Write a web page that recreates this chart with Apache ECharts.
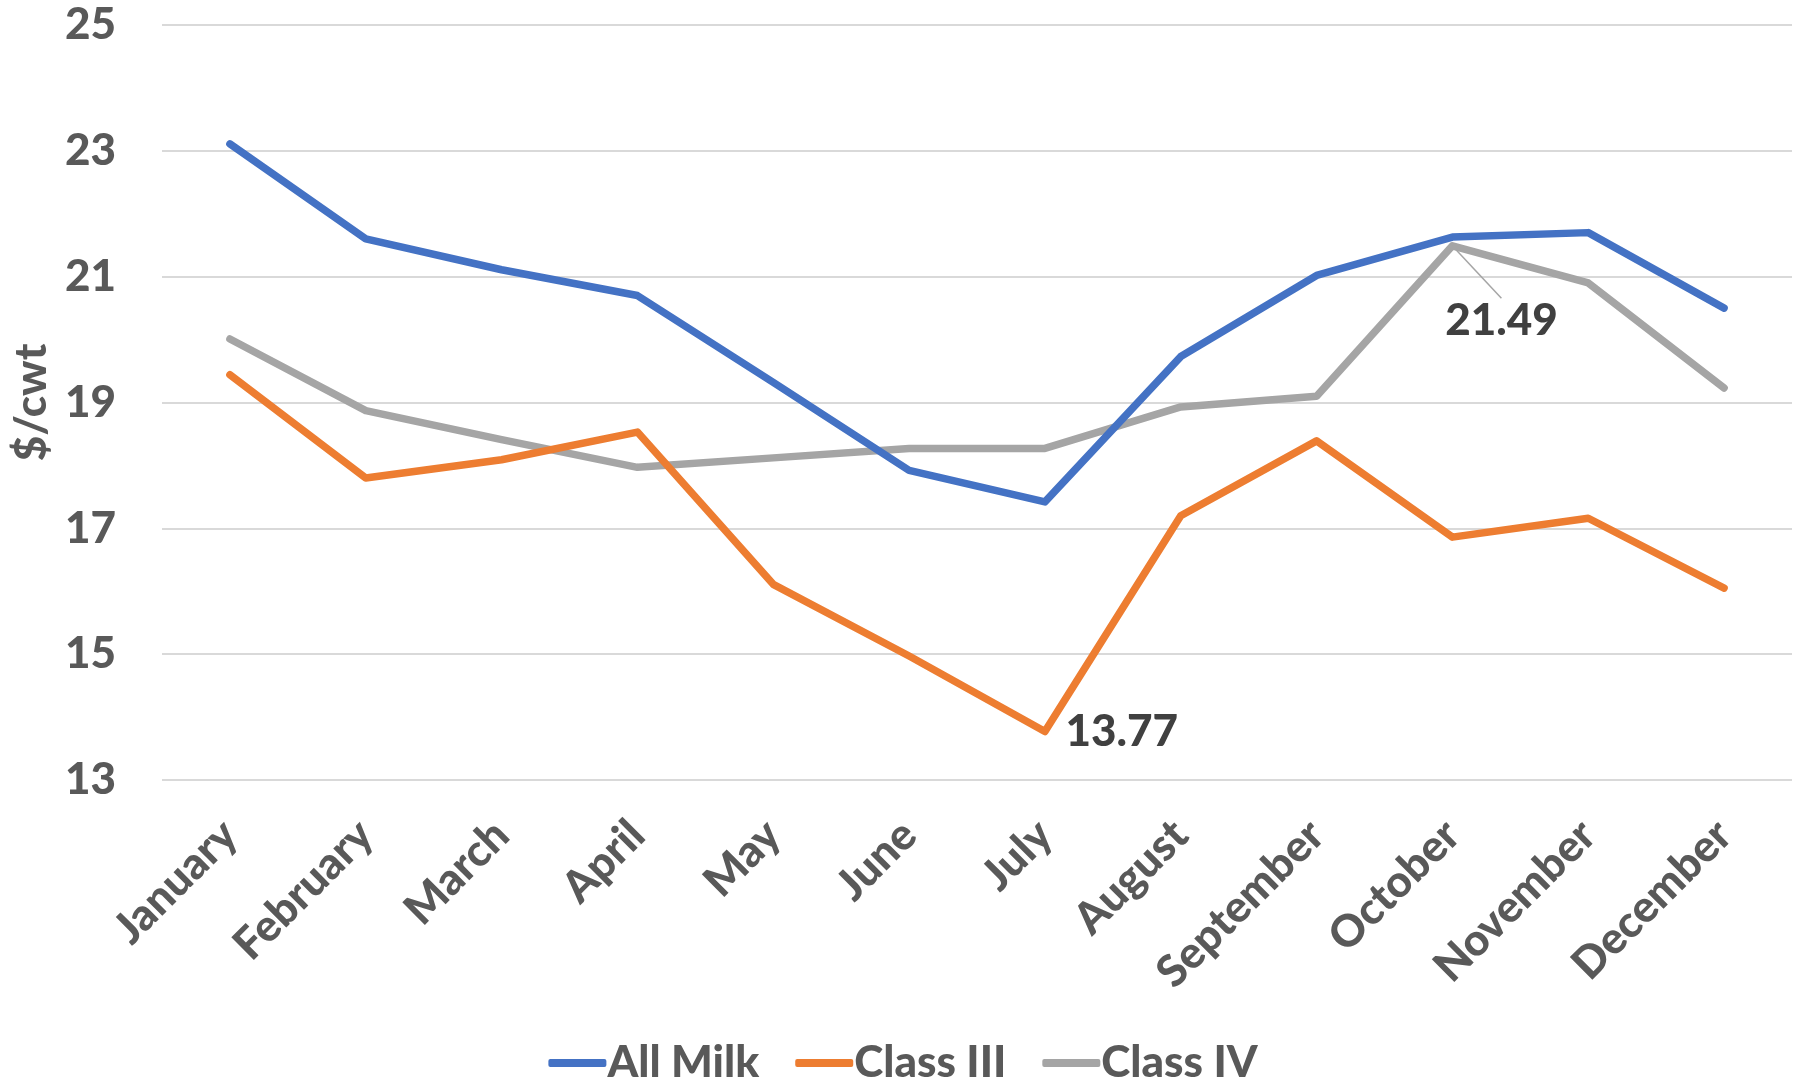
<!DOCTYPE html>
<html>
<head>
<meta charset="utf-8">
<style>
  html, body { margin: 0; padding: 0; background: #ffffff; }
  #chart { width: 1806px; height: 1088px; }
</style>
<script src="https://cdn.jsdelivr.net/npm/echarts@6/dist/echarts.min.js"></script>
</head>
<body>
<div id="chart"></div>
<script>
const months = ['January', 'February', 'March', 'April', 'May', 'June', 'July', 'August', 'September', 'October', 'November', 'December'];
const allMilk = [23.11, 21.60, 21.11, 20.70, 19.32, 17.92, 17.42, 19.73, 21.02, 21.63, 21.70, 20.50];
const classIII = [19.44, 17.80, 18.09, 18.53, 16.11, 14.97, 13.77, 17.20, 18.39, 16.86, 17.16, 16.05];
const classIV = [20.01, 18.87, 18.41, 17.97, 18.12, 18.27, 18.27, 18.93, 19.10, 21.49, 20.90, 19.23];
const yTicks = [13, 15, 17, 19, 21, 23, 25];
const seriesNames = ['All Milk', 'Class III', 'Class IV'];
const labelledIII = 6;   // July
const labelledIV = 9;    // October

const FONT = 'Lato, "Liberation Sans", sans-serif';
const WEIGHT = 900;
const chart = echarts.init(document.getElementById('chart'), null, { renderer: 'canvas' });

function lineSeries(name, values, color, labelIdx, labelCfg) {
  return {
    name: name,
    type: 'line',
    data: values.map((v, i) => (i === labelIdx ? { value: v, label: labelCfg } : v)),
    showSymbol: true,
    symbol: 'circle',
    symbolSize: 1,
    itemStyle: { color: color },
    lineStyle: { color: color, width: 7.5, cap: 'round', join: 'round' },
    label: { show: false },
    emphasis: { disabled: true },
    animation: false,
    z: 3
  };
}

const labelStyle = {
  show: true,
  color: '#404040',
  fontFamily: FONT,
  fontWeight: WEIGHT,
  fontSize: 44,
  formatter: p => p.value.toFixed(2)
};

const s1 = lineSeries(seriesNames[0], allMilk, '#4472C4', -1, null);
const s2 = lineSeries(seriesNames[1], classIII, '#ED7D31', labelledIII,
  Object.assign({}, labelStyle, { position: 'right', distance: 20 }));
const s3 = lineSeries(seriesNames[2], classIV, '#A5A5A5', labelledIV,
  Object.assign({}, labelStyle, { position: 'bottom', distance: 52 }));
s3.labelLayout = { dx: 49 };
s3.labelLine = { show: true, lineStyle: { color: '#A5A5A5', width: 1.5 } };
s3.z = 2;

const option = {
  backgroundColor: '#ffffff',
  animation: false,
  grid: { left: 162, right: 14, top: 25, bottom: 308, containLabel: false, outerBoundsMode: 'none' },
  legend: {
    data: seriesNames,
    bottom: -2,
    left: 'center',
    icon: 'roundRect',
    itemWidth: 58,
    itemHeight: 8,
    itemGap: 36,
    textStyle: { color: '#595959', fontFamily: FONT, fontWeight: WEIGHT, fontSize: 44, padding: [0, 0, 0, -4] }
  },
  xAxis: {
    type: 'category',
    data: months,
    boundaryGap: true,
    axisLine: { show: false },
    axisTick: { show: false },
    axisLabel: {
      interval: 0,
      rotate: 45,
      margin: 48,
      color: '#595959',
      fontFamily: FONT,
      fontWeight: WEIGHT,
      fontSize: 44
    }
  },
  yAxis: {
    type: 'value',
    min: yTicks[0],
    max: yTicks[yTicks.length - 1],
    interval: 2,
    name: '$/cwt',
    nameLocation: 'middle',
    nameRotate: 90,
    nameGap: 108,
    nameTextStyle: { color: '#595959', fontFamily: FONT, fontWeight: WEIGHT, fontSize: 44 },
    axisLine: { show: false },
    axisTick: { show: false },
    axisLabel: {
      margin: 46,
      color: '#595959',
      fontFamily: FONT,
      fontWeight: WEIGHT,
      fontSize: 44
    },
    splitLine: { show: true, lineStyle: { color: '#D9D9D9', width: 2 } }
  },
  series: [s1, s2, s3]
};
chart.setOption(option);
</script>
</body>
</html>
